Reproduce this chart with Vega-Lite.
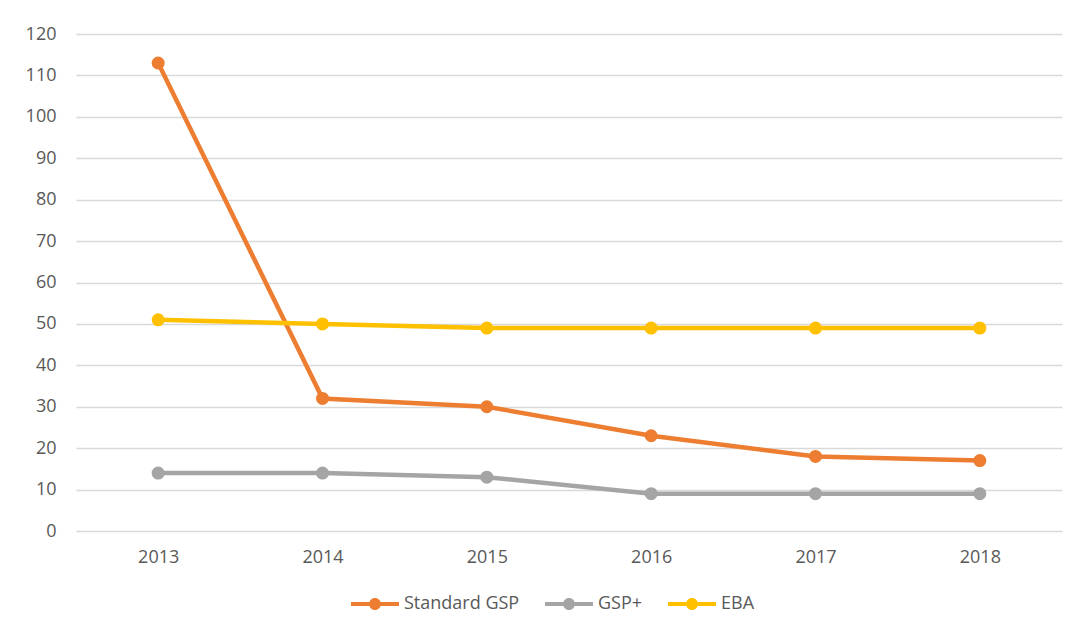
{
  "$schema": "https://vega.github.io/schema/vega-lite/v6.json",
  "autosize": "none",
  "width": 986,
  "height": 497,
  "padding": {"left": 76, "top": 34, "right": 16, "bottom": 106},
  "background": "white",
  "data": {"values": [
    {"year": "2013", "series": "Standard GSP", "value": 113},
    {"year": "2014", "series": "Standard GSP", "value": 32},
    {"year": "2015", "series": "Standard GSP", "value": 30},
    {"year": "2016", "series": "Standard GSP", "value": 23},
    {"year": "2017", "series": "Standard GSP", "value": 18},
    {"year": "2018", "series": "Standard GSP", "value": 17},
    {"year": "2013", "series": "GSP+", "value": 14},
    {"year": "2014", "series": "GSP+", "value": 14},
    {"year": "2015", "series": "GSP+", "value": 13},
    {"year": "2016", "series": "GSP+", "value": 9},
    {"year": "2017", "series": "GSP+", "value": 9},
    {"year": "2018", "series": "GSP+", "value": 9},
    {"year": "2013", "series": "EBA", "value": 51},
    {"year": "2014", "series": "EBA", "value": 50},
    {"year": "2015", "series": "EBA", "value": 49},
    {"year": "2016", "series": "EBA", "value": 49},
    {"year": "2017", "series": "EBA", "value": 49},
    {"year": "2018", "series": "EBA", "value": 49}
  ]},
  "mark": {"type": "line", "strokeWidth": 4.5, "point": {"filled": true, "size": 170}},
  "encoding": {
    "x": {
      "field": "year", "type": "ordinal",
      "scale": {"type": "point", "padding": 0.5},
      "axis": {"title": null, "labelAngle": 0, "domain": false, "ticks": false, "grid": false,
               "labelPadding": 17, "labelFontSize": 18, "labelFont": "Open Sans", "labelColor": "#595959"}
    },
    "y": {
      "field": "value", "type": "quantitative",
      "scale": {"domain": [0, 120]},
      "axis": {"title": null, "values": [0,10,20,30,40,50,60,70,80,90,100,110,120],
               "domain": false, "ticks": false, "gridColor": "#d9d9d9", "gridWidth": 1.5,
               "labelPadding": 20, "labelFontSize": 18, "labelFont": "Open Sans", "labelColor": "#595959"}
    },
    "color": {
      "field": "series", "type": "nominal",
      "scale": {"domain": ["Standard GSP", "GSP+", "EBA"], "range": ["#ED7D31", "#A5A5A5", "#FFC000"]},
      "sort": ["Standard GSP", "GSP+", "EBA"],
      "legend": {
        "title": null, "orient": "none", "legendX": 290, "legendY": 561, "direction": "horizontal",
        "symbolType": "M-4,-0.33H4V0.33H-4Z M1,0A1,1 0 1 1 -1,0A1,1 0 1 1 1,0Z",
        "symbolSize": 144, "symbolStrokeWidth": 0, "labelOffset": 20, "columnPadding": 25,
        "labelFontSize": 18, "labelFont": "Open Sans", "labelColor": "#595959",
        "encode": {"symbols": {"update": {"fill": {"scale": "color", "field": "value"}, "fillOpacity": {"value": 1}, "strokeWidth": {"value": 0}}}}
      }
    }
  },
  "config": {"view": {"stroke": null}}
}
